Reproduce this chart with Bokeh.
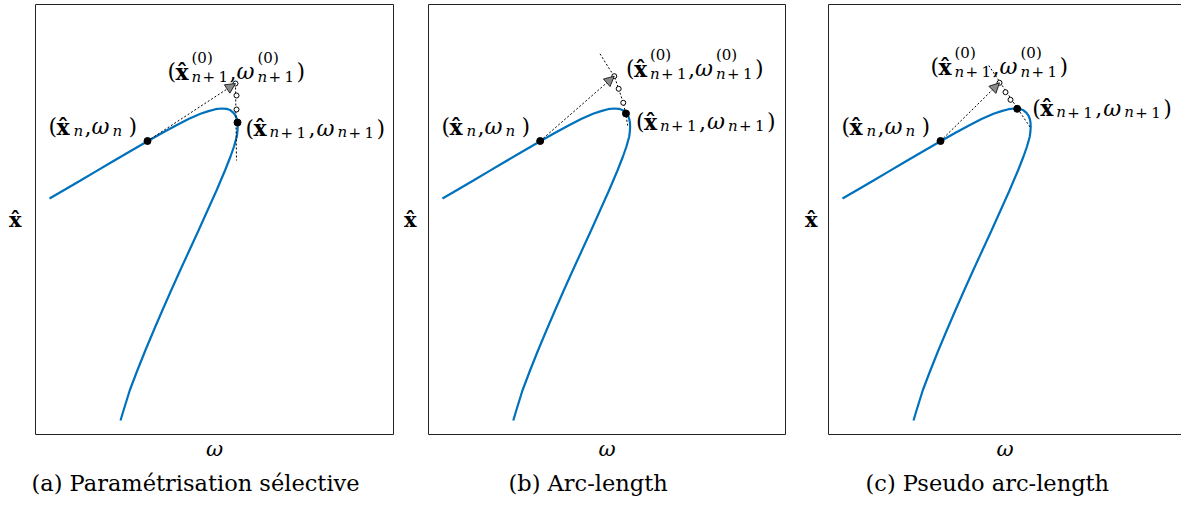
from bokeh.plotting import figure
from bokeh.layouts import row
from bokeh.models import (ColumnDataSource, Arrow, NormalHead, LinearAxis,
                          FixedTicker, Title, Range1d)
from bokeh.core.properties import value, field
from bokeh.embed import file_html
from bokeh.resources import INLINE

SERIF = "DejaVu Serif"
BLUE = "#0072BD"

# ---------------- data (arbitrary units) ----------------
captions = ["(a) Paramétrisation sélective", "(b) Arc-length", "(c) Pseudo arc-length"]
xlabel = "ω"
ylabel = "x\u0302"

# solution branch x̂(ω) (same in the three panels)
curve_omega = [0.14, 0.30, 0.45, 0.60, 0.75, 0.93, 1.12, 1.27, 1.40, 1.53, 1.65, 1.73,
               1.80, 1.86, 1.91, 1.95, 1.98, 2.00, 2.013, 2.02, 2.022, 2.02, 2.013,
               1.985, 1.95, 1.895, 1.81, 1.72, 1.63, 1.538, 1.446, 1.356, 1.268,
               1.182, 1.098, 1.018, 0.942, 0.88, 0.85]
curve_xhat = [2.36, 2.452, 2.54, 2.629, 2.717, 2.822, 2.932, 3.017, 3.088, 3.154, 3.207,
              3.234, 3.253, 3.26, 3.257, 3.242, 3.217, 3.188, 3.155, 3.12, 3.08, 3.04,
              2.98, 2.88, 2.78, 2.64, 2.44, 2.24, 2.04, 1.84, 1.64, 1.44, 1.24,
              1.04, 0.84, 0.64, 0.44, 0.24, 0.14]

# converged point n (same in the three panels)
n_omega = 1.12
n_xhat = 2.935

# per panel: converged point n+1, predictor, corrector iterates, corrector path
next_omega = [2.02, 1.98, 1.887]
next_xhat = [3.12, 3.21, 3.257]
pred_omega = [2.00, 1.863, 1.71]
pred_xhat = [3.51, 3.583, 3.517]
iter_omega = [[2.01, 2.01], [1.907, 1.953], [1.77, 1.82]]
iter_xhat = [[3.39, 3.25], [3.457, 3.317], [3.423, 3.347]]
corr_omega = [[2.00, 2.01],
              [1.72, 1.803, 1.863, 1.907, 1.953, 1.98, 1.997],
              [1.603, 2.02]]
corr_xhat = [[3.51, 2.74],
             [3.807, 3.673, 3.583, 3.457, 3.317, 3.197, 3.09],
             [3.69, 3.067]]

# ---------------- layout / style ----------------
H = 503
FIG_W = [400, 401, 380]
BORDER_L = [35, 27, 27]
BORDER_R = [7, 16, 0]
X_END = [3.58, 3.58, 3.53]
YLAB_STANDOFF = [14, 12, 11]
CAPTION_OFFSET = [-4, 80, 37]
LABEL_N_AT = [(0.13, 3.08), (0.13, 3.08), (0.13, 3.08)]
LABEL_PRED_AT = [(1.32, 3.63), (1.98, 3.66), (1.02, 3.68)]
LABEL_NEXT_AT = [(2.10, 3.065), (2.08, 3.13), (2.037, 3.262)]
M, S = "22px", "15px"


def sub(dx, dy):
    return [("n", dx, dy, S, "italic"), ("+", dx + 11, dy, S, "normal"),
            ("1", dx + 27, dy, S, "normal")]


PIECES_N = [("(", 0, 0, M, "normal"), ("x\u0302", 8, 0, M, "bold"),
            ("n", 25, 4, S, "italic"), (",", 36, 0, M, "normal"),
            ("ω", 43, 0, M, "italic"), ("n", 64, 4, S, "italic"),
            (")", 80, 0, M, "normal")]
PIECES_PRED = ([("(", 0, 0, M, "normal"), ("x\u0302", 8, 0, M, "bold"),
                ("(0)", 24, -14, S, "normal")] + sub(24, 5) +
               [(",", 62, 0, M, "normal"), ("ω", 69, 0, M, "italic"),
                ("(0)", 90, -14, S, "normal")] + sub(90, 5) +
               [(")", 129, 0, M, "normal")])
PIECES_NEXT = ([("(", 0, 0, M, "normal"), ("x\u0302", 8, 0, M, "bold")] + sub(24, 4) +
               [(",", 63, 0, M, "normal"), ("ω", 71, 0, M, "italic")] + sub(92, 4) +
               [(")", 131, 0, M, "normal")])


def add_math_label(p, at, pieces):
    src = ColumnDataSource(dict(
        x=[at[0]] * len(pieces), y=[at[1]] * len(pieces),
        text=[q[0] for q in pieces], dx=[q[1] for q in pieces],
        dy=[q[2] for q in pieces], size=[q[3] for q in pieces],
        style=[q[4] for q in pieces]))
    p.text(x="x", y="y", text="text", x_offset=field("dx"), y_offset=field("dy"),
           text_font_size=field("size"), text_font_style=field("style"),
           text_font=value(SERIF), text_align="left", text_baseline="alphabetic",
           text_color="black", source=src)


def bare_axis(label=None):
    ax = LinearAxis(ticker=FixedTicker(ticks=[]), axis_line_color="#222222",
                    axis_line_width=1, major_tick_line_color=None,
                    minor_tick_line_color=None, major_tick_out=0, major_tick_in=0,
                    minor_tick_out=0, minor_tick_in=0,
                    major_label_text_font_size="0px", major_label_standoff=0)
    if label is not None:
        ax.axis_label = label
        ax.axis_label_text_font = SERIF
        ax.axis_label_text_font_size = "21px"
        ax.axis_label_text_color = "black"
    return ax


figs = []
for i in range(3):
    p = figure(width=FIG_W[i], height=H, x_range=Range1d(0, X_END[i]),
               y_range=Range1d(0, 4.30), output_backend="svg", toolbar_location=None,
               x_axis_location=None, y_axis_location=None,
               min_border_left=BORDER_L[i], min_border_right=BORDER_R[i],
               min_border_top=4, min_border_bottom=69)
    p.outline_line_color = None
    p.grid.visible = False
    p.background_fill_color = "white"
    p.border_fill_color = "white"

    yax = bare_axis(ylabel)
    yax.axis_label_text_font_style = "bold"
    yax.axis_label_standoff = YLAB_STANDOFF[i]
    try:
        yax.axis_label_orientation = "horizontal"
    except Exception:
        pass
    p.add_layout(yax, "left")

    xax = bare_axis(xlabel)
    xax.axis_label_text_font_style = "italic"
    xax.axis_label_standoff = 2
    p.add_layout(xax, "below")
    p.add_layout(bare_axis(), "above")
    if i < 2:
        p.add_layout(bare_axis(), "right")

    p.add_layout(Title(text=captions[i], align="left", offset=CAPTION_OFFSET[i],
                       text_font=SERIF, text_font_size="22.5px",
                       text_font_style="normal", text_color="black", standoff=8),
                 "below")

    # branch
    p.line(curve_omega, curve_xhat, line_color=BLUE, line_width=2.2)
    # predictor
    p.line([n_omega, pred_omega[i]], [n_xhat, pred_xhat[i]], line_color="black",
           line_width=1, line_dash="2 2")
    # corrector path
    p.line(corr_omega[i], corr_xhat[i], line_color="black", line_width=1,
           line_dash="2 2")
    p.add_layout(Arrow(end=NormalHead(size=10, fill_color="#8a8a8a",
                                      line_color="black", line_width=0.8),
                       x_start=n_omega, y_start=n_xhat,
                       x_end=pred_omega[i], y_end=pred_xhat[i], line_alpha=0))
    # iterates
    p.scatter([pred_omega[i]] + iter_omega[i], [pred_xhat[i]] + iter_xhat[i],
              size=5, fill_color="white", line_color="black", line_width=1)
    # converged points
    p.scatter([n_omega, next_omega[i]], [n_xhat, next_xhat[i]], size=7,
              fill_color="black", line_color="black")

    add_math_label(p, LABEL_N_AT[i], PIECES_N)
    add_math_label(p, LABEL_PRED_AT[i], PIECES_PRED)
    add_math_label(p, LABEL_NEXT_AT[i], PIECES_NEXT)
    figs.append(p)

layout = row(*figs, spacing=0)
open("out.html", "w").write(file_html(layout, INLINE))
